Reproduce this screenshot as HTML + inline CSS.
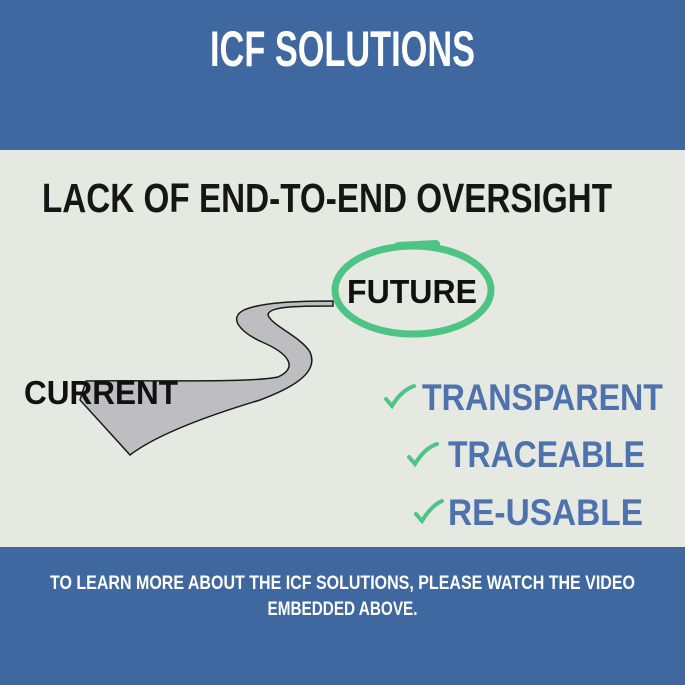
<!DOCTYPE html>
<html><head><meta charset="utf-8"><style>
html,body{margin:0;padding:0;width:685px;height:685px;overflow:hidden;background:#3f67a0}
svg{display:block}
</style></head><body>
<svg width="685" height="685" viewBox="0 0 685 685" xmlns="http://www.w3.org/2000/svg">
<rect x="0" y="0" width="685" height="150" fill="#3f67a0"/>
<rect x="0" y="150" width="685" height="397" fill="#e6e8e2"/>
<rect x="0" y="547" width="685" height="138" fill="#3f67a0"/>
<g font-family="Liberation Sans, sans-serif" font-weight="bold">
<text x="210" y="66" font-size="50" fill="#fff" textLength="265" lengthAdjust="spacingAndGlyphs">ICF SOLUTIONS</text>
<text x="42" y="212" font-size="41" fill="#161616" textLength="570" lengthAdjust="spacingAndGlyphs">LACK OF END-TO-END OVERSIGHT</text>
<path d="M333,301 C300,301 262,302 244,310 C228,318 240,332 262,342 C290,354 298,368 278,377 C250,383 150,380 86,381 L80,400 L130,455 C160,432 220,412 260,400 C300,385 318,370 310,352 C300,336 272,326 268,315 C268,306 300,306 333,306 Z" fill="#bebec0" stroke="#1a1a1a" stroke-width="1.5"/>
<text x="24" y="404" font-size="33" fill="#111" textLength="154" lengthAdjust="spacingAndGlyphs">CURRENT</text>
<ellipse cx="413" cy="290" rx="78" ry="44" fill="none" stroke="#4ec484" stroke-width="7"/>
<path d="M398,246 L436,244" stroke="#4ec484" stroke-width="8" stroke-linecap="round"/>
<text x="347" y="303" font-size="33" fill="#111" textLength="130" lengthAdjust="spacingAndGlyphs">FUTURE</text>
<g fill="#4d72ad" font-size="37">
<text x="422" y="410" textLength="241" lengthAdjust="spacingAndGlyphs">TRANSPARENT</text>
<text x="448" y="467" textLength="197" lengthAdjust="spacingAndGlyphs">TRACEABLE</text>
<text x="448" y="525" textLength="195" lengthAdjust="spacingAndGlyphs">RE-USABLE</text>
</g>
<g fill="none" stroke="#4ec484" stroke-width="4" stroke-linecap="round">
<path d="M386,399 L392,406 C398,396 405,389 414,386"/>
<path d="M409,457 L415,464 C421,454 428,447 437,444"/>
<path d="M416,514 L422,521 C428,511 435,504 442,501"/>
</g>
<text x="342.5" y="589" font-size="19" fill="#fff" text-anchor="middle" textLength="585" lengthAdjust="spacingAndGlyphs">TO LEARN MORE ABOUT THE ICF SOLUTIONS, PLEASE WATCH THE VIDEO</text>
<text x="342.5" y="615" font-size="19" fill="#fff" text-anchor="middle" textLength="150" lengthAdjust="spacingAndGlyphs">EMBEDDED ABOVE.</text>
</g>
</svg>
</body></html>
